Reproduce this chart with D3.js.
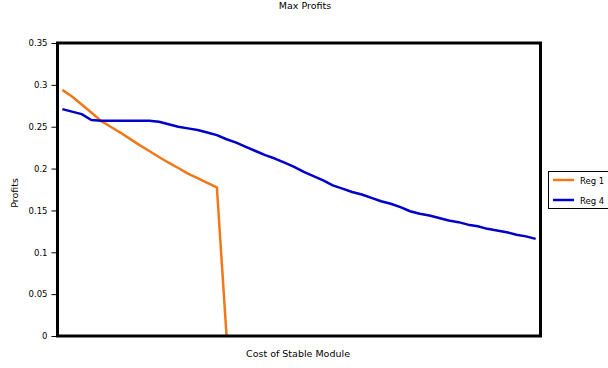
<!DOCTYPE html>
<html>
<head>
<meta charset="utf-8">
<script src="https://cdn.jsdelivr.net/npm/d3@7"></script>
<style>
  html, body { margin: 0; padding: 0; background: #fff; }
  svg { display: block; font-family: "DejaVu Sans", Verdana, sans-serif; }
</style>
</head>
<body>
<svg id="chart" width="608" height="368"></svg>
<script>
// Cost steps along the x axis (unlabelled)
const costSteps = d3.range(1, 51);

// Max profit per cost step
const reg1 = [0.294, 0.286, 0.2765, 0.267, 0.257, 0.250, 0.243, 0.2355, 0.228, 0.221,
              0.2138, 0.207, 0.2007, 0.194, 0.1887, 0.183, 0.1775, 0.0];
const reg4 = [0.271, 0.268, 0.265, 0.258, 0.257, 0.257, 0.257, 0.257, 0.257, 0.257,
              0.256, 0.253, 0.250, 0.248, 0.246, 0.243, 0.240, 0.235, 0.231, 0.226,
              0.221, 0.216, 0.212, 0.207, 0.202, 0.196, 0.191, 0.186, 0.180, 0.176,
              0.172, 0.169, 0.165, 0.161, 0.158, 0.154, 0.149, 0.146, 0.144, 0.141,
              0.138, 0.136, 0.133, 0.131, 0.128, 0.126, 0.124, 0.121, 0.119, 0.116];

const yTicks = [0, 0.05, 0.1, 0.15, 0.2, 0.25, 0.3, 0.35];
const yTickLabels = ["0", "0.05", "0.1", "0.15", "0.2", "0.25", "0.3", "0.35"];

const seriesNames = ["Reg 1", "Reg 4"];
const seriesColors = ["#f07818", "#0000c8"];

const svg = d3.select("#chart");
const plot = { left: 57.5, top: 43, right: 540.5, bottom: 336 };

const x = d3.scaleLinear().domain([0.5, 50.5]).range([plot.left, plot.right]);
const y = d3.scaleLinear().domain([0, 0.35]).range([plot.bottom, plot.top]);

// Title
svg.append("text")
  .attr("x", 305).attr("y", 9)
  .attr("text-anchor", "middle")
  .attr("font-size", 9.5)
  .text("Max Profits");

// Y axis with outside ticks
const yAxis = d3.axisLeft(y)
  .tickValues(yTicks)
  .tickFormat((d, i) => yTickLabels[i])
  .tickSize(6)
  .tickPadding(4);

const gy = svg.append("g")
  .attr("transform", `translate(${plot.left},0)`)
  .call(yAxis);
gy.select(".domain").remove();
gy.selectAll("text")
  .attr("font-size", 8.5)
  .attr("font-family", "DejaVu Sans, Verdana, sans-serif")
  .attr("fill", "#000");
gy.selectAll("line").attr("stroke", "#000");

// Lines
const line = d3.line()
  .x((d, i) => x(costSteps[i]))
  .y(d => y(d));

const seriesData = [reg1, reg4];
svg.selectAll("path.series")
  .data(seriesData)
  .join("path")
  .attr("class", "series")
  .attr("fill", "none")
  .attr("stroke", (d, i) => seriesColors[i])
  .attr("stroke-width", 2.5)
  .attr("stroke-linejoin", "round")
  .attr("d", d => line(d));

// Plot frame
svg.append("rect")
  .attr("x", plot.left).attr("y", plot.top)
  .attr("width", plot.right - plot.left)
  .attr("height", plot.bottom - plot.top)
  .attr("fill", "none")
  .attr("stroke", "#000")
  .attr("stroke-width", 3);

// Axis titles
svg.append("text")
  .attr("x", 298).attr("y", 357)
  .attr("text-anchor", "middle")
  .attr("font-size", 9.5)
  .text("Cost of Stable Module");

svg.append("text")
  .attr("transform", "translate(18,193) rotate(-90)")
  .attr("text-anchor", "middle")
  .attr("font-size", 9.5)
  .text("Profits");

// Legend
const legend = svg.append("g");
legend.append("rect")
  .attr("x", 548.5).attr("y", 171.5)
  .attr("width", 70).attr("height", 37)
  .attr("fill", "#fff")
  .attr("stroke", "#000")
  .attr("stroke-width", 1);

seriesNames.forEach((name, i) => {
  const ly = 180 + i * 20;
  legend.append("line")
    .attr("x1", 553).attr("x2", 574)
    .attr("y1", ly).attr("y2", ly)
    .attr("stroke", seriesColors[i])
    .attr("stroke-width", 2.5);
  legend.append("text")
    .attr("x", 580).attr("y", ly + 3.5)
    .attr("font-size", 8.5)
    .text(name);
});
</script>
</body>
</html>
